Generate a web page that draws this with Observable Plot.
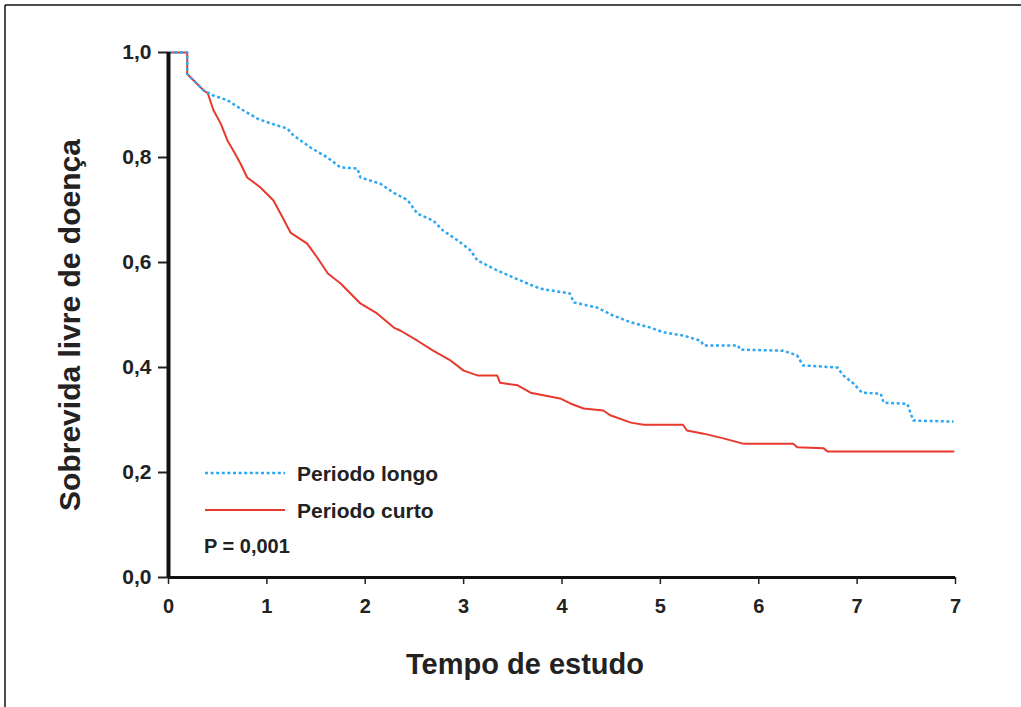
<!DOCTYPE html>
<html>
<head>
<meta charset="utf-8">
<script src="https://cdn.jsdelivr.net/npm/d3@7"></script>
<script src="https://cdn.jsdelivr.net/npm/@observablehq/plot@0.6"></script>
<style>
  html, body { margin: 0; padding: 0; background: #fff; }
  #chart { position: relative; width: 1021px; height: 707px; overflow: hidden; }
  svg { font-family: "Liberation Sans", Arial, sans-serif; }
</style>
</head>
<body>
<div id="chart"></div>
<script>
// ---- Data (vertices) ----
const longoTime = [0, 0.19, 0.19, 0.254, 0.356, 0.457, 0.60, 0.732, 0.904, 1.037, 1.209, 1.270, 1.443, 1.616, 1.748, 1.921, 1.951, 2.154, 2.287, 2.43, 2.53, 2.69, 2.79, 2.94, 3.07, 3.14, 3.34, 3.51, 3.65, 3.78, 4.08, 4.12, 4.36, 4.52, 4.70, 4.90, 5.03, 5.23, 5.41, 5.44, 5.79, 5.81, 6.25, 6.39, 6.45, 6.80, 6.86, 6.96, 7.05, 7.24, 7.27, 7.51, 7.57, 7.98];
const longoSurv = [1.0, 1.0, 0.959, 0.947, 0.928, 0.918, 0.909, 0.893, 0.874, 0.865, 0.855, 0.842, 0.819, 0.800, 0.781, 0.779, 0.762, 0.750, 0.733, 0.719, 0.693, 0.680, 0.661, 0.642, 0.623, 0.604, 0.585, 0.571, 0.560, 0.550, 0.541, 0.524, 0.514, 0.499, 0.486, 0.476, 0.467, 0.461, 0.451, 0.442, 0.442, 0.434, 0.432, 0.423, 0.404, 0.400, 0.385, 0.370, 0.352, 0.350, 0.333, 0.331, 0.299, 0.297];

const curtoTime = [0, 0.19, 0.19, 0.254, 0.356, 0.40, 0.457, 0.53, 0.60, 0.66, 0.73, 0.80, 0.935, 1.067, 1.14, 1.24, 1.41, 1.51, 1.62, 1.75, 1.85, 1.95, 2.12, 2.29, 2.36, 2.53, 2.69, 2.87, 3.00, 3.14, 3.34, 3.37, 3.55, 3.68, 3.81, 3.98, 4.09, 4.22, 4.42, 4.49, 4.70, 4.83, 5.23, 5.27, 5.44, 5.64, 5.84, 6.35, 6.39, 6.66, 6.70, 7.98];
const curtoSurv = [1.0, 1.0, 0.959, 0.947, 0.928, 0.922, 0.890, 0.865, 0.832, 0.813, 0.789, 0.762, 0.743, 0.718, 0.693, 0.657, 0.636, 0.610, 0.579, 0.560, 0.541, 0.522, 0.503, 0.476, 0.470, 0.451, 0.432, 0.413, 0.394, 0.385, 0.385, 0.371, 0.366, 0.352, 0.347, 0.341, 0.331, 0.322, 0.318, 0.309, 0.295, 0.291, 0.291, 0.280, 0.274, 0.265, 0.255, 0.255, 0.248, 0.246, 0.240, 0.240];

const xTicks = [0, 1, 2, 3, 4, 5, 6, 7, 8];
const xTickLabels = ["0", "1", "2", "3", "4", "5", "6", "7", "7"];
const yTicks = [0, 0.2, 0.4, 0.6, 0.8, 1.0];
const yTickLabels = ["0,0", "0,2", "0,4", "0,6", "0,8", "1,0"];
const seriesNames = ["Periodo longo", "Periodo curto"];
const seriesColors = ["#2fa8f0", "#e8392f"];
const pText = "P = 0,001";
const xTitle = "Tempo de estudo";
const yTitle = "Sobrevida livre de doença";

// ---- Build tables ----
const longo = longoTime.map((t, i) => ({t, s: longoSurv[i]}));
const curto = curtoTime.map((t, i) => ({t, s: curtoSurv[i]}));

const W = 1021, H = 707;
const mL = 168, mR = 66, mT = 52, mB = 130;
const blueDash = "3,2.6";

const plot = Plot.plot({
  width: W,
  height: H,
  marginLeft: mL,
  marginRight: mR,
  marginTop: mT,
  marginBottom: mB,
  style: {background: "#fff", fontFamily: "'Liberation Sans', Arial, sans-serif"},
  x: {domain: [0, 8]},
  y: {domain: [0, 1]},
  marks: [
    Plot.line(curto, {x: "t", y: "s", stroke: seriesColors[1], strokeWidth: 2}),
    Plot.line(longo, {x: "t", y: "s", stroke: seriesColors[0], strokeWidth: 2.5, strokeDasharray: blueDash, className: "longo"}),
    Plot.axisX({ticks: xTicks, tickFormat: d => xTickLabels[xTicks.indexOf(d)], tickSize: 7, tickPadding: 14, fontSize: 20, fontWeight: "bold", fill: "#222", stroke: "#222", strokeWidth: 1.5, label: null}),
    Plot.axisY({ticks: yTicks, tickFormat: d => yTickLabels[yTicks.findIndex(v => Math.abs(v - d) < 1e-9)], tickSize: 10, tickPadding: 7, fontSize: 21, fontWeight: "bold", fill: "#222", stroke: "#222", strokeWidth: 2, label: null}),
    Plot.ruleY([0], {stroke: "#111", strokeWidth: 3}),
    Plot.ruleX([0], {stroke: "#111", strokeWidth: 4})
  ]
});

document.getElementById("chart").appendChild(plot);

// ensure the dotted style is on the path itself
d3.select(plot).selectAll("g.longo path, .longo path")
  .attr("stroke-dasharray", blueDash)
  .attr("stroke-linecap", "butt");

// ---- Decorations: frame, titles, legend ----
const svg = d3.select(plot);
svg.append("line").attr("x1", 5).attr("x2", W).attr("y1", 5).attr("y2", 5).attr("stroke", "#111").attr("stroke-width", 1.5);
svg.append("line").attr("x1", 5).attr("x2", 5).attr("y1", 5).attr("y2", H).attr("stroke", "#111").attr("stroke-width", 1.5);

svg.append("text")
  .attr("x", 525).attr("y", 674)
  .attr("text-anchor", "middle")
  .attr("font-size", 29).attr("font-weight", "bold").attr("fill", "#222")
  .text(xTitle);

svg.append("text")
  .attr("transform", "translate(80,325) rotate(-90)")
  .attr("text-anchor", "middle")
  .attr("font-size", 30).attr("font-weight", "bold").attr("fill", "#222")
  .text(yTitle);

const leg = svg.append("g").attr("text-anchor", "start");
leg.append("line").attr("x1", 205).attr("x2", 285).attr("y1", 473).attr("y2", 473)
  .attr("stroke", seriesColors[0]).attr("stroke-width", 2.5).attr("stroke-dasharray", blueDash);
leg.append("line").attr("x1", 205).attr("x2", 285).attr("y1", 510).attr("y2", 510)
  .attr("stroke", seriesColors[1]).attr("stroke-width", 2);
leg.append("text").attr("x", 297).attr("y", 481).attr("font-size", 21).attr("font-weight", "bold").attr("fill", "#222").text(seriesNames[0]);
leg.append("text").attr("x", 297).attr("y", 518).attr("font-size", 21).attr("font-weight", "bold").attr("fill", "#222").text(seriesNames[1]);
leg.append("text").attr("x", 204).attr("y", 553).attr("font-size", 20).attr("font-weight", "bold").attr("fill", "#222").text(pText);
</script>
</body>
</html>
